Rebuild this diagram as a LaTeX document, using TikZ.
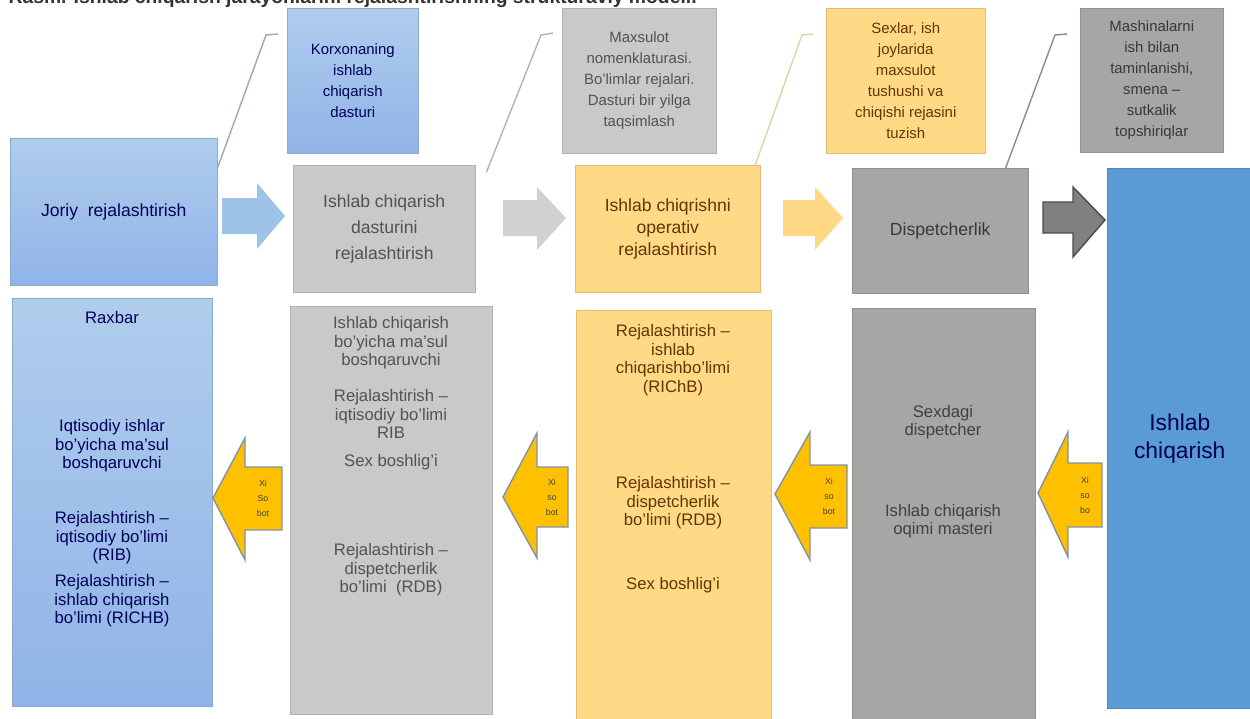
\documentclass[tikz,border=0pt]{standalone}
\usepackage{fontspec}
\setmainfont{Liberation Sans}
\usepackage{tikz}
\usetikzlibrary{shapes,arrows}
\definecolor{lblue}{HTML}{9DC3E6}
\definecolor{llblue}{HTML}{B0CDEC}
\definecolor{dblue}{HTML}{5B9BD5}
\definecolor{lgray}{HTML}{C9C9C9}
\definecolor{dgray}{HTML}{A5A7A5}
\definecolor{lyel}{HTML}{FFD985}
\definecolor{gold}{HTML}{FFC000}
\definecolor{slate}{HTML}{7F93A8}
\colorlet{navy}{blue!35!black}
\colorlet{brown}{orange!40!black}
\tikzset{
	blk/.style      = {anchor=north west, inner sep=0pt, draw=#1!88!black, line width=0.3pt},
	bluebox/.style  = {blk=lblue, top color=llblue, bottom color=lblue!92!blue, text=navy},
	graybox/.style  = {blk=lgray, fill=lgray, text=black!68},
	yelbox/.style   = {blk=lyel, fill=lyel, text=brown},
	dgraybox/.style = {blk=dgray, fill=dgray, text=black!78},
	toptxt/.style   = {align=center, font=\fontsize{10}{#1}\selectfont},
	note/.style     = {align=center, font=\fontsize{8.5}{11.9}\selectfont},
	txt/.style      = {align=center, font=\fontsize{9.5}{10.6}\selectfont},
	fwd/.style      = {fill=#1, draw=none},
	back/.style     = {fill=gold, draw=slate, line width=0.8pt},
	tiny/.style     = {align=center, font=\fontsize{5}{8.5}\selectfont, text=black!75},
	lead/.style     = {draw=#1, line width=0.8pt}
}

\begin{document}
\begin{tikzpicture}[x=0.02cm, y=-0.02cm, thick, >=latex]
	\useasboundingbox (0,0) rectangle (1250,718);
	\clip (0,0) rectangle (1250,718);
	\node[anchor=base west, font=\fontsize{11}{12}\selectfont\bfseries, text=black!80] (title) at (2,3)
	{Rasm. Ishlab chiqarish jarayonlarini rejalashtirishning strukturaviy modeli.};

	% notes on top
	\draw
	node at (287,8)[bluebox, minimum width=2.62cm, minimum height=2.90cm, note] (korx) {Korxonaning\\ishlab\\chiqarish\\dasturi}
	node at (562,8)[graybox, minimum width=3.08cm, minimum height=2.90cm, note] (nomen) {Maxsulot\\nomenklaturasi.\\Bo'limlar rejalari.\\Dasturi bir yilga\\taqsimlash}
	node at (826,8)[yelbox, minimum width=3.18cm, minimum height=2.90cm, note] (sexlar) {Sexlar, ish\\joylarida\\maxsulot\\tushushi va\\chiqishi rejasini\\tuzish}
	node at (1080,8)[dgraybox, minimum width=2.86cm, minimum height=2.88cm, note] (mashina) {Mashinalarni\\ish bilan\\taminlanishi,\\smena --\\sutkalik\\topshiriqlar}
	;

	% planning chain
	\draw
	node at (10,138)[bluebox, minimum width=4.14cm, minimum height=2.94cm, toptxt=14] (joriy) {Joriy\ \ rejalashtirish}
	node at (293,165)[graybox, minimum width=3.64cm, minimum height=2.54cm, toptxt=14.7] (dastur) {Ishlab chiqarish\\dasturini\\rejalashtirish}
	node at (575,165)[yelbox, minimum width=3.70cm, minimum height=2.54cm, toptxt=12.5] (operativ) {Ishlab chiqrishni\\operativ\\rejalashtirish}
	node at (852,168)[dgraybox, minimum width=3.52cm, minimum height=2.50cm, toptxt=12] (disp) {Dispetcherlik}
	node at (1107,168)[blk=dblue, fill=dblue, minimum width=2.90cm, minimum height=10.80cm, text=navy,
		align=center, font=\fontsize{13}{16}\selectfont] (ishlab) {Ishlab\\chiqarish}
	;

	\draw[lead=slate!80] ([yshift=-0.6cm]joriy.north east) -- (266,35) -- ([shift={(-9,26)}]korx.north west);
	\draw[lead=black!30] ([shift={(11,7)}]dastur.north east) -- (541,35) -- ([shift={(-9,25)}]nomen.north west);
	\draw[lead=yellow!45!gray!60] ([xshift=-3]operativ.north east) -- (802,35) -- ([shift={(-13,26)}]sexlar.north west);
	\draw[lead=black!45] ([xshift=-13]disp.north east) -- (1055,35) -- ([shift={(-13,26)}]mashina.north west);

	\draw[fwd=lblue] (222,198) -- (257,198) -- (257,183) -- (285,216) -- (257,249) -- (257,234) -- (222,234) -- cycle;
	\draw[fwd=lgray!85] (503,200) -- (537,200) -- (537,187) -- (566,218) -- (537,250) -- (537,236) -- (503,236) -- cycle;
	\draw[fwd=lyel] (783,200) -- (815,200) -- (815,187) -- (843,218) -- (815,250) -- (815,236) -- (783,236) -- cycle;
	\draw[fwd=black!50, draw=black!70, line width=0.8pt] (1043,202) -- (1073,202) -- (1073,187) -- (1105,220) -- (1073,257) -- (1073,233) -- (1043,233) -- cycle;

	% who does it
	\draw
	node at (12,298)[bluebox, minimum width=4.00cm, minimum height=8.16cm] (rcol) {}
	node at (290,306)[graybox, minimum width=4.04cm, minimum height=8.16cm] (gcol) {}
	node at (576,310)[yelbox, minimum width=3.90cm, minimum height=8.20cm] (ycol) {}
	node at (852,308)[dgraybox, minimum width=3.66cm, minimum height=8.30cm] (dcol) {}
	;

	\draw
	node at (112,318)[txt, text=navy] (raxbar) {Raxbar}
	node at (112,446)[txt, text=navy] (iqt) {Iqtisodiy ishlar\\bo'yicha ma'sul\\boshqaruvchi}
	node at (112,538)[txt, text=navy] (rib) {Rejalashtirish --\\iqtisodiy bo'limi\\(RIB)}
	node at (112,601)[txt, text=navy] (richb) {Rejalashtirish --\\ishlab chiqarish\\bo'limi (RICHB)}
	node at (391,343)[txt, text=black!68] (ichm) {Ishlab chiqarish\\bo'yicha ma'sul\\boshqaruvchi}
	node at (391,414)[txt, text=black!68] (rib2) {Rejalashtirish --\\iqtisodiy bo'limi\\RIB}
	node at (391,462)[txt, text=black!68] (sex1) {Sex boshlig'i}
	node at (391,570)[txt, text=black!68] (rdb1) {Rejalashtirish --\\dispetcherlik\\bo'limi\ \ (RDB)}
	node at (673,360)[txt, text=brown] (richb2) {Rejalashtirish --\\ishlab\\chiqarishbo'limi\\(RIChB)}
	node at (673,503)[txt, text=brown] (rdb2) {Rejalashtirish --\\dispetcherlik\\bo'limi (RDB)}
	node at (673,585)[txt, text=brown] (sex2) {Sex boshlig'i}
	node at (943,422)[txt, text=black!75] (sexdisp) {Sexdagi\\dispetcher}
	node at (943,521)[txt, text=black!75] (master) {Ishlab chiqarish\\oqimi masteri}
	;

	% reports back
	\draw[back] (282,467) -- (245,467) -- (245,438) -- (213,498) -- (245,560) -- (245,530) -- (282,530) -- cycle;
	\draw[back] (568,467) -- (537,467) -- (537,433) -- (503,497) -- (537,558) -- (537,527) -- (568,527) -- cycle;
	\draw[back] (847,465) -- (810,465) -- (810,432) -- (775,494) -- (810,560) -- (810,528) -- (847,528) -- cycle;
	\draw[back] (1102,463) -- (1068,463) -- (1068,432) -- (1038,493) -- (1068,557) -- (1068,527) -- (1102,527) -- cycle;
	\draw
	node at (263,498)[tiny] (x1) {Xi\\So\\bot}
	node at (552,497)[tiny] (x2) {Xi\\so\\bot}
	node at (829,496)[tiny] (x3) {Xi\\so\\bot}
	node at (1085,495)[tiny] (x4) {Xi\\so\\bo}
	;
\end{tikzpicture}
\end{document}
